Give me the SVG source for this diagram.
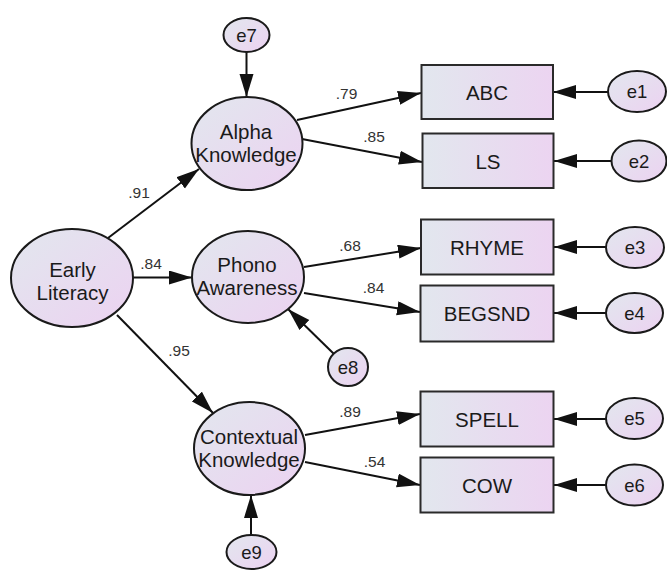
<svg xmlns="http://www.w3.org/2000/svg" width="667" height="571" viewBox="0 0 667 571">
  <style>
    .bg { fill: #ffffff; }
    .lat { fill: url(#gEll); stroke: #1a1a1a; stroke-width: 2; }
    .obs { fill: url(#gRect); stroke: #2a2a2a; stroke-width: 2; }
    .err { fill: url(#gEll); stroke: #1a1a1a; stroke-width: 2; }
    .t { font-family: "Liberation Sans", Arial, sans-serif; font-size: 20.5px; fill: #1a1a1a; text-anchor: middle; }
    .te { font-family: "Liberation Sans", Arial, sans-serif; font-size: 18.5px; fill: #1a1a1a; text-anchor: middle; }
    .w { font-family: "Liberation Sans", Arial, sans-serif; font-size: 15.5px; fill: #333333; text-anchor: middle; }
    .c { stroke: #111111; stroke-width: 2; fill: none; marker-end: url(#arr); }
  </style>
  <defs>
    <linearGradient id="gRect" x1="0" y1="0" x2="1" y2="0">
      <stop offset="0" stop-color="#e2e7ee"/>
      <stop offset="1" stop-color="#ecd4f1"/>
    </linearGradient>
    <linearGradient id="gEll" x1="0" y1="0" x2="1" y2="1">
      <stop offset="0" stop-color="#e2e7ee"/>
      <stop offset="1" stop-color="#ecd2f1"/>
    </linearGradient>
    <marker id="arr" markerUnits="userSpaceOnUse" markerWidth="25" markerHeight="15" refX="23" refY="7" orient="auto">
      <path d="M0,0 L23,7 L0,14 z" fill="#111111"/>
    </marker>
  </defs>
  <rect class="bg" x="0" y="0" width="667" height="571"/>

  <!-- paths between variables -->
  <g id="connectors">
    <line class="c" x1="108" y1="238" x2="199" y2="169"/>
    <line class="c" x1="133" y1="277.5" x2="192" y2="277.5"/>
    <line class="c" x1="117" y1="315" x2="213" y2="413"/>
    <line class="c" x1="246.5" y1="52" x2="246.5" y2="97"/>
    <line class="c" x1="334" y1="354" x2="288" y2="309"/>
    <line class="c" x1="251" y1="535" x2="251" y2="495"/>
    <line class="c" x1="297" y1="120" x2="421" y2="93"/>
    <line class="c" x1="302" y1="139" x2="422" y2="162"/>
    <line class="c" x1="304" y1="267" x2="421" y2="248"/>
    <line class="c" x1="304" y1="293" x2="420" y2="312"/>
    <line class="c" x1="305" y1="435" x2="420" y2="414"/>
    <line class="c" x1="305" y1="462" x2="420" y2="485"/>
    <line class="c" x1="608" y1="92" x2="553" y2="92"/>
    <line class="c" x1="611" y1="161" x2="554" y2="161"/>
    <line class="c" x1="606" y1="247" x2="554" y2="247"/>
    <line class="c" x1="606" y1="313" x2="554" y2="313"/>
    <line class="c" x1="606" y1="419" x2="554" y2="419"/>
    <line class="c" x1="606" y1="485" x2="554" y2="485"/>
  </g>

  <!-- standardized weights -->
  <g id="weights">
    <text class="w" x="139" y="198">.91</text>
    <text class="w" x="151" y="269">.84</text>
    <text class="w" x="179" y="356">.95</text>
    <text class="w" x="346.5" y="99">.79</text>
    <text class="w" x="374" y="142">.85</text>
    <text class="w" x="350" y="251">.68</text>
    <text class="w" x="373.5" y="293">.84</text>
    <text class="w" x="350" y="417">.89</text>
    <text class="w" x="374.5" y="467">.54</text>
  </g>

  <!-- latent variables -->
  <g id="early-literacy">
    <ellipse class="lat" cx="72" cy="278" rx="61" ry="49"/>
    <text class="t" x="72.5" y="277">Early</text>
    <text class="t" x="72.5" y="299.5">Literacy</text>
  </g>
  <g id="alpha-knowledge">
    <ellipse class="lat" cx="247" cy="143.5" rx="55.5" ry="46.5"/>
    <text class="t" x="246" y="139">Alpha</text>
    <text class="t" x="246" y="162">Knowledge</text>
  </g>
  <g id="phono-awareness">
    <ellipse class="lat" cx="248" cy="277" rx="56" ry="46"/>
    <text class="t" x="247" y="272">Phono</text>
    <text class="t" x="247" y="295">Awareness</text>
  </g>
  <g id="contextual-knowledge">
    <ellipse class="lat" cx="249.5" cy="448.5" rx="55.5" ry="46.5"/>
    <text class="t" x="249" y="444">Contextual</text>
    <text class="t" x="249" y="467">Knowledge</text>
  </g>

  <!-- observed variables -->
  <g id="abc">
    <rect class="obs" x="421.5" y="65" width="131.5" height="54"/>
    <text class="t" x="487" y="99.5">ABC</text>
  </g>
  <g id="ls">
    <rect class="obs" x="422.5" y="133.5" width="131" height="54.5"/>
    <text class="t" x="488" y="168.5">LS</text>
  </g>
  <g id="rhyme">
    <rect class="obs" x="421" y="219.5" width="132.5" height="55"/>
    <text class="t" x="487" y="254.5">RHYME</text>
  </g>
  <g id="begsnd">
    <rect class="obs" x="420.5" y="285.5" width="133" height="56"/>
    <text class="t" x="487" y="321">BEGSND</text>
  </g>
  <g id="spell">
    <rect class="obs" x="420.5" y="391.5" width="133" height="55"/>
    <text class="t" x="487" y="426.5">SPELL</text>
  </g>
  <g id="cow">
    <rect class="obs" x="420.5" y="457.5" width="133" height="55"/>
    <text class="t" x="487" y="492.5">COW</text>
  </g>

  <!-- error terms -->
  <g id="e1">
    <ellipse class="err" cx="637" cy="91.5" rx="29" ry="20.5"/>
    <text class="te" x="637" y="98">e1</text>
  </g>
  <g id="e2">
    <ellipse class="err" cx="639" cy="161" rx="27.5" ry="20.5"/>
    <text class="te" x="639" y="167.5">e2</text>
  </g>
  <g id="e3">
    <ellipse class="err" cx="635" cy="247.5" rx="29" ry="20.5"/>
    <text class="te" x="635" y="254">e3</text>
  </g>
  <g id="e4">
    <ellipse class="err" cx="634.5" cy="313" rx="28.5" ry="20"/>
    <text class="te" x="634.5" y="319.5">e4</text>
  </g>
  <g id="e5">
    <ellipse class="err" cx="634.5" cy="418.5" rx="28.5" ry="20.5"/>
    <text class="te" x="634.5" y="425">e5</text>
  </g>
  <g id="e6">
    <ellipse class="err" cx="634.5" cy="485" rx="28.5" ry="20.5"/>
    <text class="te" x="634.5" y="491.5">e6</text>
  </g>
  <g id="e7">
    <ellipse class="err" cx="246.5" cy="35" rx="23" ry="17"/>
    <text class="te" x="246.5" y="41.5">e7</text>
  </g>
  <g id="e8">
    <ellipse class="err" cx="348" cy="367" rx="20" ry="19"/>
    <text class="te" x="348" y="373.5">e8</text>
  </g>
  <g id="e9">
    <ellipse class="err" cx="251.5" cy="552" rx="25" ry="17"/>
    <text class="te" x="251.5" y="558.5">e9</text>
  </g>
</svg>
